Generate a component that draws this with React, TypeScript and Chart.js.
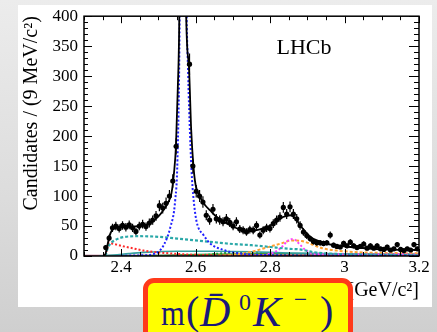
import React, { useEffect, useRef } from 'react';
import { Chart, registerables } from 'chart.js';

Chart.register(...registerables);

const FONT = "'Liberation Serif', 'Times New Roman', serif";

// Histogram: 9 MeV bins from 2.3 to 3.2 GeV
const binLow = 2.3;
const binWidth = 0.009;
const counts: (number | null)[] = [
  null, null, null, null, null, null, 14, 30, 47, 50,
  46, 51, 48, 52, 47, 41, 50, 53, 49, 55,
  60, 67, 84, 80, 88, 100, 125, 183, 420, 1150,
  700, 320, 150, 108, 100, 90, 68, 60, 78, 62,
  60, 57, 62, 56, 50, 57, 45, 43, 40, 44,
  43, 51, 35, 43, 47, 46, 54, 60, 65, 81,
  70, 82, 70, 62, 51, 40, 34, 29, 24, 22,
  22, 21, 22, 35, 18, 16, 15, 21, 17, 23,
  17, 14, 16, 20, 13, 17, 13, 17, 12, 11,
  15, 10, 12, 19, 11, 9, 12, 10, 19, 12,
];

const xTickValues = [2.4, 2.6, 2.8, 3.0, 3.2];
const xTickLabels = ['2.4', '2.6', '2.8', '3', '3.2'];
const yTickValues = [0, 50, 100, 150, 200, 250, 300, 350, 400];
const yTickLabels = ['0', '50', '100', '150', '200', '250', '300', '350', '400'];

// Fit components as (mass, candidates)
const totalFit: [number, number][] = [
  [2.352, 0], [2.358, 4], [2.363, 18], [2.368, 32], [2.375, 43], [2.385, 47], [2.40, 48],
  [2.43, 49], [2.46, 51], [2.48, 56], [2.50, 66], [2.515, 78], [2.525, 88], [2.535, 105],
  [2.542, 140], [2.547, 183], [2.552, 280], [2.556, 400], [2.561, 900], [2.566, 1300],
  [2.571, 800], [2.574, 420], [2.5815, 320], [2.588, 210], [2.594, 150], [2.60, 118],
  [2.612, 98], [2.625, 85], [2.639, 76], [2.655, 66], [2.675, 57], [2.70, 49], [2.72, 44],
  [2.74, 42], [2.764, 43], [2.78, 46], [2.80, 51], [2.82, 59], [2.835, 65], [2.854, 68],
  [2.868, 63], [2.881, 51], [2.89, 44], [2.907, 32], [2.934, 24], [2.97, 18], [3.015, 15],
  [3.10, 11], [3.2, 10],
];
const signalDs2: [number, number][] = [
  [2.40, 0.5], [2.45, 1], [2.491, 4], [2.514, 18], [2.532, 48], [2.545, 93], [2.551, 160],
  [2.557, 400], [2.562, 1000], [2.566, 1400], [2.570, 1000], [2.574, 500], [2.58, 300],
  [2.585, 200], [2.59, 130], [2.596, 85], [2.603, 56], [2.621, 35], [2.639, 21],
  [2.675, 10], [2.72, 4], [2.8, 1.5], [2.9, 0.5], [3.2, 0.2],
];
const broadComp: [number, number][] = [
  [2.358, 0], [2.363, 12], [2.37, 20], [2.385, 27], [2.41, 32], [2.45, 33], [2.50, 32],
  [2.55, 29], [2.60, 26], [2.65, 23], [2.70, 20], [2.75, 18], [2.80, 15], [2.85, 12],
  [2.88, 11], [2.92, 6], [2.96, 4], [3.0, 3], [3.1, 2], [3.2, 1],
];
const feedDown: [number, number][] = [
  [2.358, 0], [2.362, 12], [2.367, 22], [2.375, 21], [2.40, 17], [2.43, 13], [2.46, 9],
  [2.50, 6], [2.55, 3.5], [2.60, 2], [2.70, 1], [2.8, 0.5], [3.2, 0.3],
];
const combBkg: [number, number][] = [
  [2.34, 0], [2.38, 1.5], [2.42, 4], [2.46, 6], [2.55, 8], [2.65, 8], [2.75, 7],
  [2.85, 5], [2.95, 4], [3.05, 3], [3.2, 2.5],
];
const greenSolid: [number, number][] = [
  [2.40, 0], [2.50, 1], [2.60, 2.5], [2.70, 3.5], [2.85, 4], [3.0, 3.5], [3.2, 3],
];
const greenDotted: [number, number][] = [
  [2.58, 0], [2.63, 2], [2.68, 5], [2.73, 6], [2.78, 5], [2.83, 3], [2.88, 1], [2.95, 0],
];
const narrow2860: [number, number][] = [
  [2.74, 0], [2.78, 1.5], [2.81, 6], [2.83, 14], [2.845, 24], [2.857, 28], [2.867, 27],
  [2.88, 19], [2.895, 10], [2.91, 5], [2.94, 3], [3.0, 3], [3.1, 3], [3.2, 2.5],
];
const broad2860: [number, number][] = [
  [2.66, 0], [2.70, 2], [2.75, 7], [2.79, 14], [2.83, 21], [2.86, 26], [2.885, 25],
  [2.91, 20], [2.94, 13], [2.98, 9], [3.05, 6], [3.12, 5], [3.2, 4.5],
];
const purpleComp: [number, number][] = [
  [2.36, 0], [2.6, 0.8], [2.8, 1.2], [3.0, 1.5], [3.2, 1.5],
];
const brownComp: [number, number][] = [
  [2.3, 0.4], [3.2, 0.4],
];

const toXY = (a: [number, number][]) => a.map(([x, y]) => ({ x, y }));

const points = counts
  .map((c, i) => (c === null ? null : { x: binLow + binWidth * (i + 0.5), y: c }))
  .filter((p) => p !== null) as { x: number; y: number }[];

const errorBars = {
  id: 'errorBars',
  afterDatasetsDraw(chart: any) {
    const { ctx, chartArea, scales } = chart;
    const meta = chart.getDatasetMeta(0);
    ctx.save();
    ctx.beginPath();
    ctx.rect(chartArea.left, chartArea.top, chartArea.right - chartArea.left, chartArea.bottom - chartArea.top);
    ctx.clip();
    ctx.strokeStyle = '#000';
    ctx.lineWidth = 1.2;
    ctx.beginPath();
    points.forEach((p, i) => {
      const e = Math.sqrt(p.y);
      const px = meta.data[i].x;
      const y1 = scales.y.getPixelForValue(p.y + e);
      const y2 = scales.y.getPixelForValue(Math.max(0, p.y - e));
      ctx.moveTo(px, y1);
      ctx.lineTo(px, y2);
      const x1 = scales.x.getPixelForValue(p.x - binWidth / 2);
      const x2 = scales.x.getPixelForValue(p.x + binWidth / 2);
      const py = scales.y.getPixelForValue(p.y);
      ctx.moveTo(x1, py);
      ctx.lineTo(x2, py);
    });
    ctx.stroke();
    ctx.restore();
  },
};

const framePlugin = {
  id: 'frame',
  afterDraw(chart: any) {
    const { ctx, chartArea, scales } = chart;
    const { left, right, top, bottom } = chartArea;
    ctx.save();
    ctx.strokeStyle = '#000';
    ctx.lineWidth = 1.5;
    ctx.strokeRect(left, top, right - left, bottom - top);
    ctx.lineWidth = 1;
    ctx.beginPath();
    for (let v = 0; v <= 400; v += 10) {
      const py = Math.round(scales.y.getPixelForValue(v)) + 0.5;
      const major = v % 50 === 0;
      const lenL = major ? 8 : 4;
      const lenR = major ? 10 : 5;
      ctx.moveTo(left, py);
      ctx.lineTo(left + lenL, py);
      ctx.moveTo(right, py);
      ctx.lineTo(right - lenR, py);
    }
    for (let k = 0; k <= 18; k++) {
      const v = 2.3 + k * 0.05;
      const px = Math.round(scales.x.getPixelForValue(v)) + 0.5;
      const major = (k + 2) % 4 === 0;
      const len = major ? 7 : 4;
      ctx.moveTo(px, bottom);
      ctx.lineTo(px, bottom - len);
      ctx.moveTo(px, top);
      ctx.lineTo(px, top + len);
    }
    ctx.stroke();
    ctx.fillStyle = '#000';
    ctx.font = `22px ${FONT}`;
    ctx.textAlign = 'center';
    ctx.textBaseline = 'middle';
    ctx.fillText('LHCb', 304, 48);
    ctx.restore();
  },
};

const line = (data: [number, number][], color: string, width: number, dash: number[], order: number) => ({
  type: 'line' as const,
  data: toXY(data),
  borderColor: color,
  borderWidth: width,
  borderDash: dash,
  pointRadius: 0,
  fill: false,
  cubicInterpolationMode: 'monotone' as const,
  order,
});

export default function App() {
  const ref = useRef<HTMLCanvasElement | null>(null);

  useEffect(() => {
    if (!ref.current) return;
    const chart = new Chart(ref.current, {
      type: 'line',
      data: {
        datasets: [
          {
            type: 'scatter',
            data: points,
            pointRadius: 2.6,
            pointBackgroundColor: '#000',
            pointBorderColor: '#000',
            pointBorderWidth: 0,
            showLine: false,
            order: 0,
          } as any,
          line(brownComp, '#a85a78', 2, [], 11),
          line(purpleComp, '#9a3ad0', 1.5, [], 10),
          line(greenSolid, '#3a9a3a', 1.5, [], 9),
          line(greenDotted, '#2e9a2e', 2, [2, 2], 8),
          line(combBkg, '#35a0a0', 1.6, [], 7),
          line(feedDown, '#ff2a2a', 2, [2, 2], 6),
          line(broad2860, '#ffa030', 2, [3, 2], 5),
          line(narrow2860, '#ff40ff', 2, [2, 2], 4),
          line(broadComp, '#2aa8a8', 2.2, [3, 2], 3),
          line(signalDs2, '#2020ff', 2, [2, 2], 2),
          line(totalFit, '#000000', 1.8, [], 1),
        ],
      },
      options: {
        animation: false,
        responsive: false,
        devicePixelRatio: 1,
        layout: { padding: { left: 10, top: 14, right: 18, bottom: 0 } },
        plugins: { legend: { display: false }, tooltip: { enabled: false } },
        events: [],
        scales: {
          x: {
            type: 'linear',
            min: 2.3,
            max: 3.2,
            afterBuildTicks: (s: any) => {
              s.ticks = xTickValues.map((v) => ({ value: v }));
            },
            afterFit: (s: any) => {
              s.height = 76;
            },
            ticks: {
              autoSkip: false,
              maxRotation: 0,
              padding: 1,
              color: '#000',
              font: { family: FONT, size: 17 },
              callback: (v: any) => {
                const i = xTickValues.indexOf(Number(v));
                return i >= 0 ? xTickLabels[i] : '';
              },
            },
            grid: { display: false, drawTicks: false },
            border: { display: false },
            title: {
              display: true,
              text: 'm(D\u0304\u2070K\u207B) [GeV/c\u00B2]',
              align: 'end',
              color: '#000',
              font: { family: FONT, size: 20 },
              padding: { top: 0, bottom: 29 },
            },
          },
          y: {
            type: 'linear',
            min: 0,
            max: 400,
            afterBuildTicks: (s: any) => {
              s.ticks = yTickValues.map((v) => ({ value: v }));
            },
            afterFit: (s: any) => {
              s.width = 74;
            },
            ticks: {
              autoSkip: false,
              padding: 6,
              color: '#000',
              font: { family: FONT, size: 17 },
              callback: (v: any) => {
                const i = yTickValues.indexOf(Number(v));
                return i >= 0 ? yTickLabels[i] : '';
              },
            },
            grid: { display: false, drawTicks: false },
            border: { display: false },
            title: {
              display: true,
              text: 'Candidates / (9 MeV/c\u00B2)',
              align: 'end',
              color: '#000',
              font: { family: FONT, size: 20 },
              padding: { top: 10, bottom: 0 },
            },
          },
        },
      },
      plugins: [errorBars, framePlugin],
    });
    return () => chart.destroy();
  }, []);

  const glyph = (left: number, top: number, size: number, italic: boolean, text: string, extra: any = {}) => (
    <span
      style={{
        position: 'absolute',
        left,
        top,
        fontSize: size,
        fontStyle: italic ? 'italic' : 'normal',
        lineHeight: 1,
        whiteSpace: 'nowrap',
        ...extra,
      }}
    >
      {text}
    </span>
  );

  return (
    <div
      style={{
        position: 'fixed',
        left: 0,
        top: 0,
        width: 437,
        height: 332,
        overflow: 'hidden',
        background: 'linear-gradient(to bottom, #ececec 0%, #dcdcdc 60%, #cfcfcf 100%)',
      }}
    >
      <div style={{ position: 'absolute', left: 18, top: 5, width: 414, height: 302, background: '#ffffff' }} />
      <canvas ref={ref} width={437} height={332} style={{ position: 'absolute', left: 0, top: 0, display: 'block' }} />
      <div
        style={{
          position: 'absolute',
          left: 143,
          top: 278,
          width: 210,
          height: 80,
          boxSizing: 'border-box',
          background: '#ffff00',
          border: '5px solid #ff3a1a',
          borderRadius: 11,
        }}
      />
      <div style={{ position: 'absolute', left: 0, top: 0, width: 437, height: 332, fontFamily: FONT, color: '#1a1a78' }}>
        {glyph(161, 295, 36, false, 'm', { transform: 'scaleX(0.85)', transformOrigin: 'left' })}
        {glyph(186, 291, 40, false, '(')}
        {glyph(200, 291, 42, true, 'D\u0304')}
        {glyph(239, 290, 24, false, '0')}
        {glyph(253, 291, 42, true, 'K')}
        {glyph(294, 287, 26, false, '\u2212', { transform: 'scaleX(0.9)', transformOrigin: 'left' })}
        {glyph(320, 291, 40, false, ')')}
      </div>
    </div>
  );
}
